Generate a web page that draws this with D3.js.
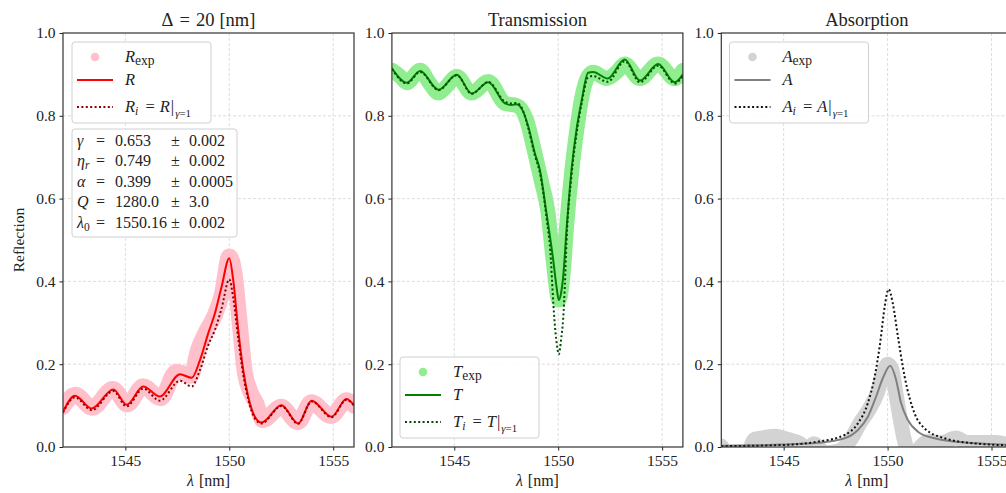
<!DOCTYPE html>
<html>
<head>
<meta charset="utf-8">
<script src="https://cdn.jsdelivr.net/npm/d3@7"></script>
<style>
  body { margin: 0; background: #fff; }
  text { font-family: "Liberation Serif", "Times New Roman", serif; fill: #222; }
</style>
</head>
<body>
<svg id="chart" width="1006" height="493"></svg>
<script>
// ---- Reflection ----
const lamR  = [1542.0, 1542.58, 1543.38, 1544.42, 1545.06, 1545.86, 1546.66, 1547.63, 1548.19, 1548.59, 1548.99, 1549.31, 1549.63, 1550.0, 1550.19, 1550.43, 1550.67, 1550.91, 1551.23, 1551.55, 1552.51, 1553.31, 1553.96, 1554.92, 1555.64, 1556.0];
const R     = [0.085, 0.124, 0.093, 0.139, 0.102, 0.146, 0.122, 0.176, 0.167, 0.210, 0.275, 0.323, 0.387, 0.456, 0.403, 0.283, 0.186, 0.122, 0.073, 0.059, 0.101, 0.057, 0.112, 0.073, 0.116, 0.101];
const Ri    = [0.083, 0.120, 0.089, 0.135, 0.098, 0.141, 0.112, 0.160, 0.146, 0.186, 0.246, 0.283, 0.335, 0.405, 0.360, 0.262, 0.175, 0.115, 0.069, 0.057, 0.099, 0.056, 0.110, 0.072, 0.114, 0.100];
const lamRexp = [1542.0, 1542.6, 1543.4, 1544.4, 1545.1, 1545.85, 1546.7, 1547.45, 1548.15, 1548.5, 1548.9, 1549.3, 1549.65, 1550.0, 1550.25, 1550.5, 1550.75, 1551.0, 1551.3, 1551.6, 1552.5, 1553.3, 1553.95, 1554.9, 1555.65, 1556.0];
const Rexp    = [0.097, 0.126, 0.095, 0.140, 0.103, 0.147, 0.118, 0.182, 0.172, 0.235, 0.280, 0.318, 0.370, 0.460, 0.420, 0.300, 0.180, 0.135, 0.105, 0.065, 0.097, 0.060, 0.108, 0.075, 0.113, 0.100];

// ---- Transmission ----
const lamT = [1542.0, 1542.72, 1543.36, 1544.24, 1545.12, 1545.84, 1546.64, 1547.44, 1547.76, 1548.0, 1548.3, 1548.56, 1548.88, 1549.12, 1549.44, 1549.76, 1549.92, 1550.03, 1550.15, 1550.24, 1550.4, 1550.64, 1550.88, 1551.12, 1551.44, 1551.68, 1552.38, 1553.2, 1553.93, 1554.81, 1555.61, 1556.0];
const T    = [0.915, 0.880, 0.908, 0.863, 0.899, 0.854, 0.881, 0.830, 0.826, 0.828, 0.812, 0.774, 0.709, 0.669, 0.564, 0.452, 0.387, 0.355, 0.375, 0.411, 0.524, 0.669, 0.766, 0.834, 0.904, 0.906, 0.890, 0.936, 0.885, 0.925, 0.881, 0.900];
const lamTi = [1542.0, 1542.72, 1543.36, 1544.24, 1545.12, 1545.84, 1546.64, 1547.44, 1547.76, 1548.0, 1548.3, 1548.56, 1548.88, 1549.12, 1549.44, 1549.65, 1549.72, 1549.82, 1549.93, 1550.03, 1550.14, 1550.24, 1550.32, 1550.4, 1550.64, 1550.88, 1551.12, 1551.44, 1551.68, 1552.38, 1553.2, 1553.93, 1554.81, 1555.61, 1556.0];
const Ti    = [0.913, 0.878, 0.906, 0.862, 0.898, 0.853, 0.882, 0.834, 0.830, 0.831, 0.813, 0.770, 0.704, 0.662, 0.553, 0.452, 0.387, 0.307, 0.250, 0.224, 0.260, 0.310, 0.390, 0.495, 0.655, 0.755, 0.828, 0.893, 0.896, 0.882, 0.932, 0.881, 0.921, 0.878, 0.897];
const lamTexp = [1542.0, 1542.4, 1542.72, 1543.36, 1543.8, 1544.24, 1544.6, 1545.12, 1545.84, 1546.64, 1547.44, 1548.0, 1548.48, 1548.88, 1549.2, 1549.5, 1549.76, 1550.03, 1550.24, 1550.4, 1550.64, 1550.88, 1551.12, 1551.44, 1551.68, 1552.33, 1552.8, 1553.2, 1553.93, 1554.81, 1555.61, 1556.0];
const Texp    = [0.910, 0.895, 0.880, 0.910, 0.880, 0.855, 0.870, 0.895, 0.855, 0.883, 0.830, 0.825, 0.790, 0.710, 0.640, 0.570, 0.450, 0.355, 0.420, 0.530, 0.660, 0.760, 0.840, 0.895, 0.905, 0.890, 0.905, 0.925, 0.890, 0.925, 0.890, 0.910];

// ---- Absorption ----
const lamA = [1542.0, 1543.5, 1545.0, 1546.65, 1547.93, 1548.57, 1549.05, 1549.45, 1549.77, 1550.13, 1550.41, 1550.65, 1550.98, 1551.46, 1552.26, 1553.86, 1556.0];
const A    = [0.003, 0.004, 0.006, 0.010, 0.021, 0.041, 0.073, 0.122, 0.166, 0.196, 0.162, 0.106, 0.065, 0.037, 0.021, 0.010, 0.005];
const lamAi = [1542.0, 1545.05, 1546.65, 1547.93, 1548.57, 1549.05, 1549.38, 1549.66, 1549.86, 1550.05, 1550.25, 1550.5, 1550.82, 1551.3, 1551.78, 1552.74, 1554.34, 1556.0];
const Ai    = [0.002, 0.005, 0.013, 0.029, 0.057, 0.106, 0.170, 0.258, 0.339, 0.381, 0.347, 0.266, 0.170, 0.081, 0.045, 0.021, 0.008, 0.004];
const lamAexp = [1542.0, 1542.5, 1543.2, 1543.6, 1544.0, 1544.6, 1545.2, 1545.8, 1546.1, 1546.45, 1547.0, 1547.6, 1548.2, 1548.7, 1549.1, 1549.5, 1549.8, 1550.0, 1550.2, 1550.4, 1550.6, 1550.8, 1551.0, 1551.3, 1551.6, 1552.0, 1552.6, 1553.3, 1553.8, 1554.5, 1555.2, 1555.6, 1556.0];
const Aexp    = [0.002, -0.025, -0.022, 0.018, 0.022, 0.026, 0.018, 0.008, -0.010, 0.008, -0.014, -0.010, 0.016, 0.060, 0.090, 0.130, 0.180, 0.200, 0.188, 0.130, 0.070, 0.018, -0.014, -0.022, 0.001, 0.013, 0.010, 0.022, 0.011, 0.011, 0.011, 0.008, -0.010];

// ---- axes ----
const xTicks = [1545, 1550, 1555];
const yTicks = [0.0, 0.2, 0.4, 0.6, 0.8, 1.0];
const xDomain = [1542, 1556];

// fit parameters shown in the first panel
const paramSym = ["γ", "η", "α", "Q", "λ"];
const paramSub = ["", "r", "", "", "0"];
const paramVal = ["0.653", "0.749", "0.399", "1280.0", "1550.16"];
const paramErr = ["0.002", "0.002", "0.0005", "3.0", "0.002"];

const svg = d3.select("#chart");
const plotTop = 33, plotBottom = 447, plotW = 291;
const y = d3.scaleLinear().domain([0, 1]).range([plotBottom, plotTop]);

function zip(xs, ys) { return xs.map((v, i) => [v, ys[i]]); }

// append a run of tspans; each part may be italic, lowered (subscript) or offset horizontally
function appendMath(text, parts) {
  let shifted = 0;
  parts.forEach(p => {
    const t = text.append("tspan").text(p.s);
    if (p.it) t.attr("font-style", "italic");
    if (p.dx) t.attr("dx", p.dx);
    if (p.sub) {
      t.attr("font-size", p.sub === true ? "0.72em" : p.sub);
      t.attr("dy", (p.dy || 4) - shifted);
      shifted = p.dy || 4;
    } else if (shifted) {
      t.attr("dy", -shifted);
      shifted = 0;
    }
  });
}

function drawPanel(idx, left, cfg) {
  const x = d3.scaleLinear().domain(xDomain).range([left, left + plotW]);
  const g = svg.append("g");
  const clipId = "clip" + idx;
  svg.append("clipPath").attr("id", clipId).append("rect")
    .attr("x", left).attr("y", plotTop).attr("width", plotW).attr("height", plotBottom - plotTop);

  // grid
  const grid = g.append("g").attr("stroke", "#d4d4d4").attr("stroke-width", 0.8).attr("stroke-dasharray", "3,2");
  xTicks.forEach(t => grid.append("line").attr("x1", x(t)).attr("x2", x(t)).attr("y1", plotTop).attr("y2", plotBottom));
  yTicks.slice(1, -1).forEach(t => grid.append("line").attr("x1", left).attr("x2", left + plotW).attr("y1", y(t)).attr("y2", y(t)));

  const line = d3.line().x(d => x(d[0])).y(d => y(d[1])).curve(d3.curveMonotoneX);
  const data = g.append("g").attr("clip-path", `url(#${clipId})`);
  data.append("path").attr("d", line(zip(cfg.expX, cfg.expY)))
    .attr("fill", "none").attr("stroke", cfg.expColor).attr("stroke-width", cfg.expWidth)
    .attr("stroke-linecap", "round").attr("stroke-linejoin", "round");
  data.append("path").attr("d", line(zip(cfg.fitX, cfg.fitY)))
    .attr("fill", "none").attr("stroke", cfg.fitColor).attr("stroke-width", 2);
  data.append("path").attr("d", line(zip(cfg.idX, cfg.idY)))
    .attr("fill", "none").attr("stroke", cfg.idColor).attr("stroke-width", 2)
    .attr("stroke-dasharray", "2,2.4");

  // axes
  const xa = g.append("g").attr("transform", `translate(0,${plotBottom})`)
    .call(d3.axisBottom(x).tickValues(xTicks).tickSize(3.5).tickPadding(4).tickFormat(d3.format("d")));
  const ya = g.append("g").attr("transform", `translate(${left},0)`)
    .call(d3.axisLeft(y).tickValues(yTicks).tickSize(3.5).tickPadding(4).tickFormat(d3.format(".1f")));
  [xa, ya].forEach(a => {
    a.select(".domain").remove();
    a.selectAll(".tick line").attr("stroke", "#222").attr("stroke-width", 1);
    a.selectAll(".tick text").attr("font-size", 15.5).attr("fill", "#222")
      .style("font-family", '"Liberation Serif", serif');
  });
  g.append("rect").attr("x", left).attr("y", plotTop).attr("width", plotW).attr("height", plotBottom - plotTop)
    .attr("fill", "none").attr("stroke", "#333").attr("stroke-width", 1.2);

  // title and x label
  const title = g.append("text").attr("x", left + plotW / 2).attr("y", 26)
    .attr("text-anchor", "middle").attr("font-size", 18.5);
  appendMath(title, cfg.title);
  const xl = g.append("text").attr("x", left + plotW / 2).attr("y", 486)
    .attr("text-anchor", "middle").attr("font-size", 16);
  appendMath(xl, [{ s: "λ", it: true }, { s: "[nm]", dx: 5 }]);

  // legend
  const lx = cfg.legend[0], ly = cfg.legend[1];
  const lg = g.append("g");
  lg.append("rect").attr("x", lx).attr("y", ly).attr("width", 139).attr("height", 81).attr("rx", 3)
    .attr("fill", "#fff").attr("fill-opacity", 0.85).attr("stroke", "#d0d0d0").attr("stroke-width", 1);
  const rows = [ly + 15, ly + 38, ly + 65];
  lg.append("circle").attr("cx", lx + 23).attr("cy", rows[0]).attr("r", 4.3).attr("fill", cfg.expColor);
  lg.append("line").attr("x1", lx + 5).attr("x2", lx + 41).attr("y1", rows[1]).attr("y2", rows[1])
    .attr("stroke", cfg.fitColor).attr("stroke-width", 2);
  lg.append("line").attr("x1", lx + 5).attr("x2", lx + 41).attr("y1", rows[2]).attr("y2", rows[2])
    .attr("stroke", cfg.idColor).attr("stroke-width", 2).attr("stroke-dasharray", "2,2.4");
  cfg.labels.forEach((parts, i) => {
    const t = lg.append("text").attr("x", lx + 53).attr("y", rows[i] + 5).attr("font-size", 16.5);
    appendMath(t, parts);
  });
  return { x, g };
}

const sym = s => [
  { s: s, it: true }, { s: "exp", sub: "0.82em", dy: 3 }
];
const ideal = s => [
  { s: s, it: true }, { s: "i", it: true, sub: "0.72em", dy: 3 }, { s: "=", dx: 7 },
  { s: s, it: true, dx: 5 }, { s: "|", dx: 1 }, { s: "γ", it: true, sub: "0.66em", dy: 5, dx: 1 }, { s: "=1", sub: "0.66em", dy: 5 }
];

drawPanel(1, 63, {
  fitX: lamR, fitY: R, idX: lamR, idY: Ri, expX: lamRexp, expY: Rexp, expWidth: 16,
  expColor: "#ffc0cb", fitColor: "#ff0000", idColor: "#8b0000",
  title: [{ s: "Δ" }, { s: "=", dx: 6 }, { s: "20", dx: 6 }, { s: "[nm]", dx: 5 }], legend: [72, 42],
  labels: [sym("R"), [{ s: "R", it: true }], ideal("R")]
});
drawPanel(2, 391.9, {
  fitX: lamT, fitY: T, idX: lamTi, idY: Ti, expX: lamTexp, expY: Texp, expWidth: 15,
  expColor: "#90ee90", fitColor: "#008000", idColor: "#004d00",
  title: [{ s: "Transmission" }], legend: [400, 357],
  labels: [sym("T"), [{ s: "T", it: true }], ideal("T")]
});
drawPanel(3, 721.3, {
  fitX: lamA, fitY: A, idX: lamAi, idY: Ai, expX: lamAexp, expY: Aexp, expWidth: 15,
  expColor: "#d3d3d3", fitColor: "#808080", idColor: "#111111",
  title: [{ s: "Absorption" }], legend: [729.5, 42],
  labels: [sym("A"), [{ s: "A", it: true }], ideal("A")]
});

// y label
svg.append("text").attr("transform", "translate(24,240) rotate(-90)")
  .attr("text-anchor", "middle").attr("font-size", 15.5).text("Reflection");

// parameter box
const bx = 72, by = 129;
const pb = svg.append("g");
pb.append("rect").attr("x", bx).attr("y", by).attr("width", 165).attr("height", 108).attr("rx", 3)
  .attr("fill", "#fff").attr("fill-opacity", 0.85).attr("stroke", "#d0d0d0");
paramSym.forEach((s, i) => {
  const yy = by + 17 + i * 20.4;
  const t = pb.append("text").attr("x", bx + 5).attr("y", yy).attr("font-size", 16);
  const parts = [{ s: s, it: true }];
  if (paramSub[i]) parts.push({ s: paramSub[i], it: paramSub[i] !== "0", sub: "0.72em", dy: 3 });
  appendMath(t, parts);
  pb.append("text").attr("x", bx + 24).attr("y", yy).attr("font-size", 16).text("=");
  pb.append("text").attr("x", bx + 43).attr("y", yy).attr("font-size", 16).text(paramVal[i]);
  pb.append("text").attr("x", bx + 99).attr("y", yy).attr("font-size", 16).text("±");
  pb.append("text").attr("x", bx + 117).attr("y", yy).attr("font-size", 16).text(paramErr[i]);
});
</script>
</body>
</html>
